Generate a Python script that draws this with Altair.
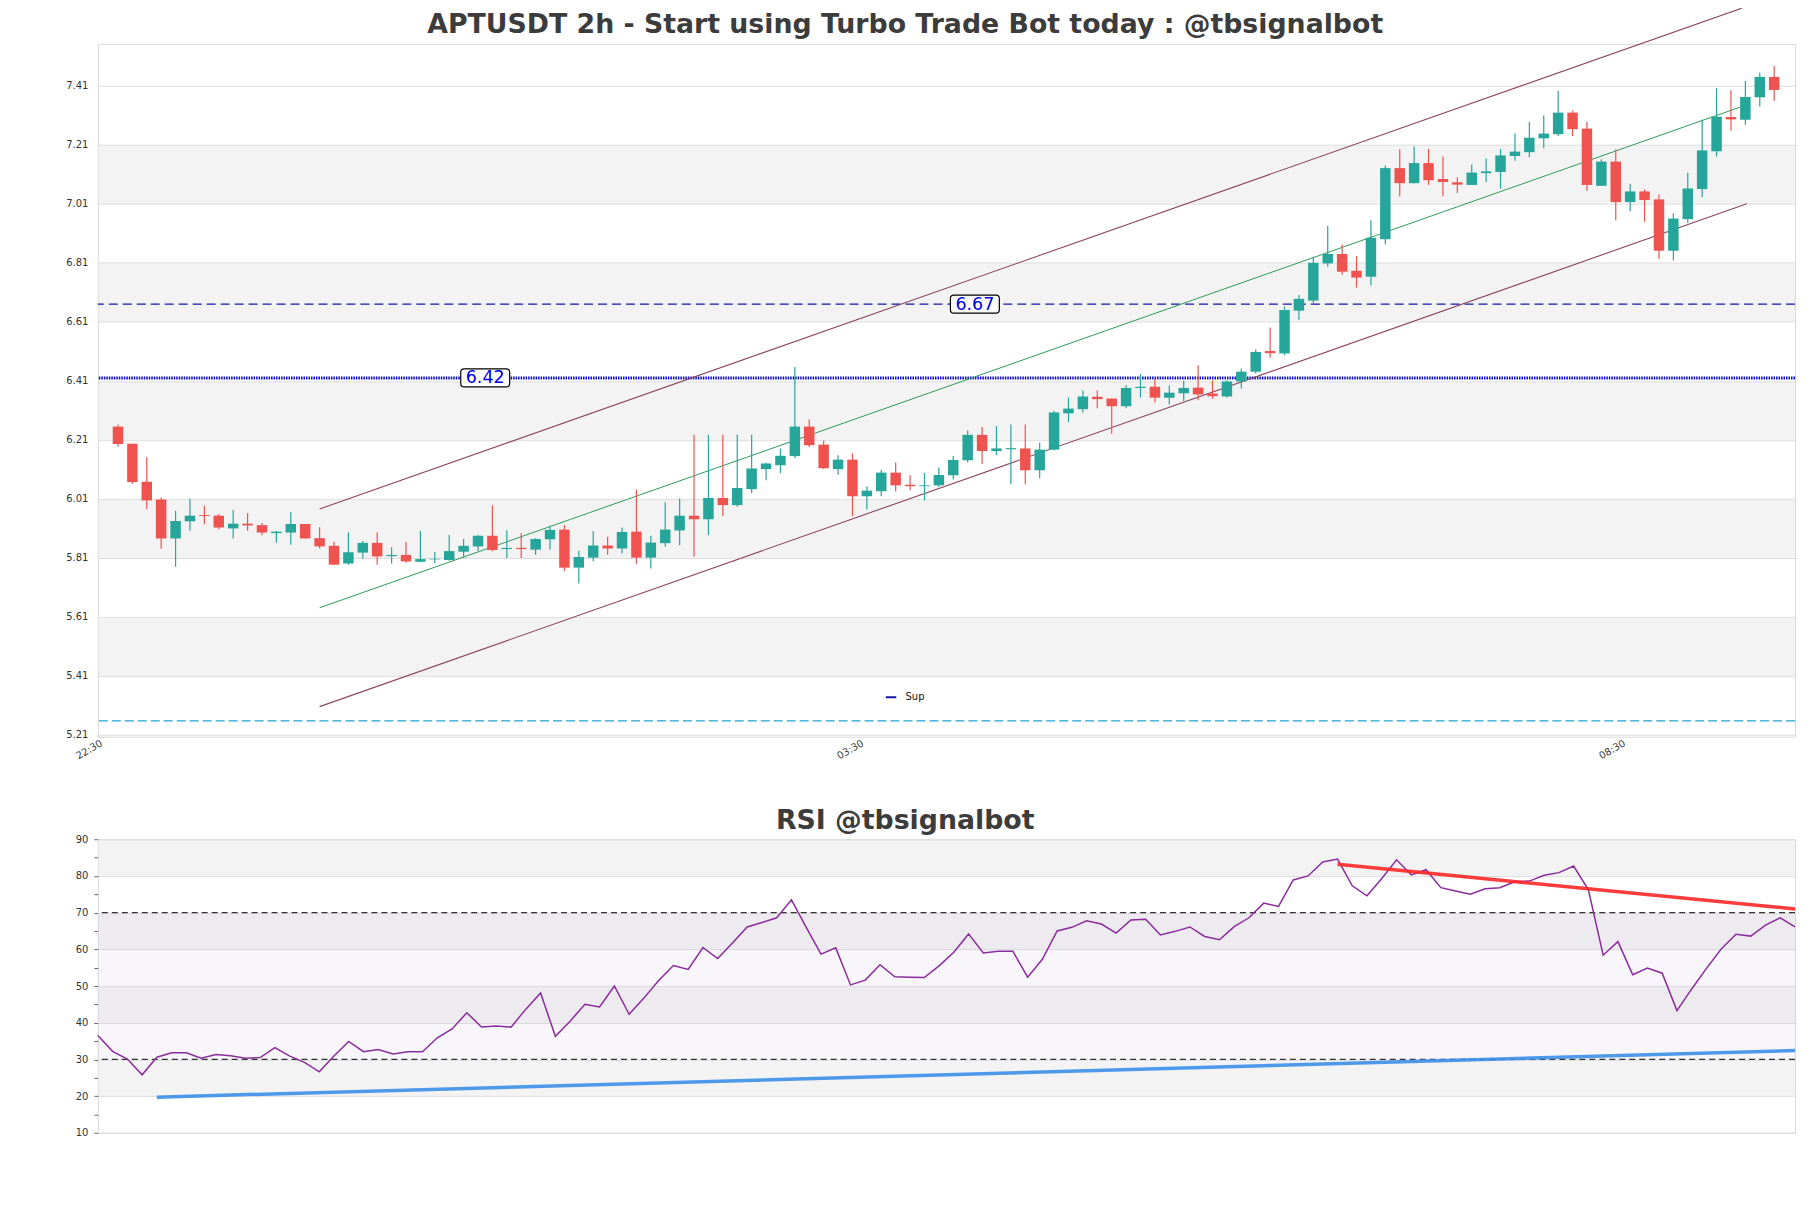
import altair as alt
import pandas as pd

# ---------------- price candles (index 0..115) ----------------
opens = [6.255, 6.197, 6.068, 6.008, 5.876, 5.934, 5.955, 5.953, 5.910, 5.926,
         5.921, 5.894, 5.896, 5.925, 5.877, 5.851, 5.791, 5.828, 5.861, 5.816,
         5.820, 5.797, 5.805, 5.803, 5.831, 5.849, 5.885, 5.840, 5.844, 5.838,
         5.873, 5.906, 5.777, 5.811, 5.852, 5.842, 5.899, 5.811, 5.860, 5.903,
         5.953, 5.941, 6.013, 5.989, 6.043, 6.111, 6.124, 6.155, 6.255, 6.194,
         6.111, 6.143, 6.019, 6.036, 6.099, 6.058, 6.053, 6.056, 6.090, 6.141,
         6.227, 6.172, 6.178, 6.181, 6.107, 6.177, 6.300, 6.314, 6.356, 6.350,
         6.324, 6.386, 6.390, 6.353, 6.368, 6.387, 6.367, 6.357, 6.408, 6.441,
         6.511, 6.503, 6.648, 6.682, 6.808, 6.840, 6.783, 6.763, 6.890, 7.131,
         7.080, 7.148, 7.094, 7.083, 7.074, 7.114, 7.118, 7.172, 7.185, 7.232,
         7.246, 7.319, 7.265, 7.071, 7.153, 7.016, 7.052, 7.025, 6.851, 6.958,
         7.060, 7.188, 7.304, 7.295, 7.371, 7.440]
highs = [6.262, 6.197, 6.151, 6.015, 5.970, 6.011, 5.987, 5.959, 5.972, 5.962,
         5.928, 5.902, 5.966, 5.925, 5.914, 5.865, 5.897, 5.867, 5.897, 5.846,
         5.865, 5.901, 5.830, 5.888, 5.874, 5.888, 5.988, 5.904, 5.894, 5.877,
         5.920, 5.921, 5.834, 5.900, 5.882, 5.913, 6.042, 5.885, 5.999, 6.011,
         6.227, 6.227, 6.227, 6.227, 6.227, 6.133, 6.181, 6.457, 6.279, 6.208,
         6.158, 6.164, 6.052, 6.109, 6.133, 6.090, 6.098, 6.116, 6.155, 6.242,
         6.254, 6.257, 6.262, 6.262, 6.200, 6.309, 6.353, 6.377, 6.377, 6.350,
         6.395, 6.433, 6.416, 6.394, 6.411, 6.463, 6.412, 6.412, 6.452, 6.516,
         6.591, 6.662, 6.701, 6.831, 6.935, 6.872, 6.833, 6.954, 7.140, 7.195,
         7.204, 7.196, 7.170, 7.100, 7.143, 7.164, 7.196, 7.248, 7.288, 7.309,
         7.393, 7.326, 7.288, 7.161, 7.195, 7.078, 7.059, 7.042, 6.978, 7.115,
         7.295, 7.402, 7.395, 7.426, 7.454, 7.477]
lows = [6.187, 6.061, 5.975, 5.841, 5.780, 5.902, 5.924, 5.907, 5.876, 5.902,
        5.887, 5.861, 5.855, 5.876, 5.842, 5.787, 5.787, 5.808, 5.787, 5.791,
        5.794, 5.795, 5.792, 5.800, 5.810, 5.833, 5.833, 5.810, 5.810, 5.821,
        5.838, 5.766, 5.723, 5.799, 5.821, 5.825, 5.789, 5.774, 5.848, 5.853,
        5.815, 5.887, 5.952, 5.983, 6.030, 6.073, 6.097, 6.149, 6.186, 6.111,
        6.092, 5.951, 5.974, 6.019, 6.035, 6.039, 6.005, 6.050, 6.077, 6.133,
        6.128, 6.158, 6.060, 6.060, 6.080, 6.174, 6.270, 6.303, 6.317, 6.231,
        6.317, 6.353, 6.337, 6.331, 6.342, 6.344, 6.349, 6.354, 6.384, 6.435,
        6.488, 6.497, 6.617, 6.671, 6.797, 6.770, 6.726, 6.733, 6.872, 7.036,
        7.080, 7.074, 7.036, 7.047, 7.074, 7.084, 7.061, 7.156, 7.168, 7.198,
        7.240, 7.240, 7.054, 7.071, 6.954, 6.985, 6.949, 6.823, 6.818, 6.945,
        7.032, 7.170, 7.258, 7.278, 7.340, 7.359]
closes = [6.196, 6.067, 6.005, 5.876, 5.935, 5.953, 5.952, 5.913, 5.926, 5.920,
          5.896, 5.899, 5.925, 5.876, 5.849, 5.787, 5.829, 5.861, 5.815, 5.820,
          5.798, 5.806, 5.807, 5.833, 5.851, 5.885, 5.837, 5.844, 5.840, 5.874,
          5.905, 5.777, 5.813, 5.852, 5.842, 5.898, 5.811, 5.862, 5.906, 5.953,
          5.941, 6.013, 5.989, 6.047, 6.113, 6.130, 6.156, 6.255, 6.192, 6.114,
          6.143, 6.019, 6.038, 6.099, 6.056, 6.053, 6.056, 6.091, 6.142, 6.227,
          6.172, 6.181, 6.182, 6.107, 6.177, 6.303, 6.316, 6.357, 6.348, 6.324,
          6.386, 6.390, 6.353, 6.370, 6.386, 6.364, 6.358, 6.408, 6.441, 6.508,
          6.504, 6.650, 6.688, 6.810, 6.840, 6.780, 6.760, 6.895, 7.131, 7.080,
          7.148, 7.090, 7.084, 7.075, 7.116, 7.120, 7.174, 7.187, 7.234, 7.248,
          7.319, 7.263, 7.074, 7.153, 7.016, 7.052, 7.023, 6.851, 6.960, 7.062,
          7.191, 7.305, 7.296, 7.372, 7.440, 7.396]

# titles
main_title = ["APTUSDT 2h - Start using Turbo Trade Bot today : @tbsignalbot"]
rsi_title = ["RSI @tbsignalbot"]

# axis ticks / labels
y_ticks = [5.21, 5.41, 5.61, 5.81, 6.01, 6.21, 6.41, 6.61, 6.81, 7.01, 7.21, 7.41]
x_tick_pos = [-1.05, 51.8, 104.7]
x_tick_lab = ["22:30", "03:30", "08:30"]

# alternating grey bands (price panel)
band_lo = [5.41, 5.81, 6.21, 6.61, 7.01]
band_hi = [5.61, 6.01, 6.41, 6.81, 7.21]

# regression channel
chan_names = ["upper", "upper", "lower", "lower"]
chan_idx = [14.0, 112.75, 14.0, 113.1]
chan_val = [5.976, 7.673, 5.306, 7.010]
mid_idx = [14.0, 112.6]
mid_val = [5.641, 7.337]

# horizontal levels
sup_level = [6.67]
sup_name = ["Sup"]
dotted_level = [6.42]
low_level = [5.258]
label_idx = [25.5, 59.5]
label_val = [6.42, 6.67]
label_txt = ["6.42", "6.67"]

# ---------------- RSI ----------------
rsi = [36.5, 32.2, 30.1, 25.8, 30.6, 31.8, 31.8, 30.3, 31.3, 31.0,
       30.3, 30.5, 33.2, 30.9, 29.2, 26.6, 30.9, 34.9, 32.1, 32.7,
       31.5, 32.1, 32.1, 35.9, 38.3, 42.7, 38.8, 39.1, 38.8, 43.7,
       48.1, 36.3, 40.4, 45.0, 44.3, 50.0, 42.3, 46.7, 51.5, 55.6,
       54.5, 60.5, 57.5, 61.7, 66.1, 67.3, 68.6, 73.5, 66.0, 58.7,
       60.4, 50.3, 51.6, 55.8, 52.5, 52.4, 52.3, 55.5, 59.2, 64.2,
       59.0, 59.5, 59.5, 52.4, 57.3, 65.0, 66.0, 67.8, 66.9, 64.4,
       68.0, 68.2, 63.9, 64.9, 66.1, 63.5, 62.6, 66.2, 68.6, 72.6,
       71.7, 78.9, 80.0, 83.8, 84.6, 77.3, 74.6, 79.3, 84.4, 80.3,
       81.7, 76.8, 75.9, 75.0, 76.5, 76.8, 78.4, 78.6, 80.2, 80.9,
       82.7, 76.2, 58.4, 62.1, 53.1, 54.9, 53.5, 43.3, 49.2, 54.8,
       60.1, 64.1, 63.6, 66.6, 68.6, 66.1]
rsi_band_lo = [20, 40, 60, 80]
rsi_band_hi = [30, 50, 70, 90]
rsi_hatch_lo = [30]
rsi_hatch_hi = [70]
rsi_levels = [70, 30]
red_idx = [84, 115]
red_val = [83.2, 71.0]
blue_idx = [4, 115]
blue_val = [19.7, 32.4]
rsi_ticks = list(range(10, 95, 5))

# ---------------- frames ----------------
n = len(opens)
candles = pd.DataFrame({"idx": list(range(n)), "open": opens, "high": highs,
                        "low": lows, "close": closes})
candles["dir"] = ["up" if c >= o else "down" for o, c in zip(opens, closes)]
candles["body_lo"] = candles[["open", "close"]].min(axis=1)
candles["body_hi"] = candles[["open", "close"]].max(axis=1)

bands = pd.DataFrame({"lo": band_lo, "hi": band_hi})
chan = pd.DataFrame({"grp": chan_names, "idx": chan_idx, "val": chan_val})
mid = pd.DataFrame({"idx": mid_idx, "val": mid_val})
sup = pd.DataFrame({"y": sup_level, "name": sup_name})
dotted = pd.DataFrame({"y": dotted_level})
lowl = pd.DataFrame({"y": low_level})
labels = pd.DataFrame({"idx": label_idx, "y": label_val, "txt": label_txt})

rsi_df = pd.DataFrame({"idx": list(range(len(rsi))), "rsi": rsi})
rbands = pd.DataFrame({"lo": rsi_band_lo, "hi": rsi_band_hi})
rhatch = pd.DataFrame({"lo": rsi_hatch_lo, "hi": rsi_hatch_hi})
rlev = pd.DataFrame({"y": rsi_levels})
red = pd.DataFrame({"idx": red_idx, "val": red_val})
blue = pd.DataFrame({"idx": blue_idx, "val": blue_val})

FONT = "DejaVu Sans"
PLOT_W = 1700
TITLE_CX = 808.7  # title centred on the figure, not on the plot

# ---------------- price panel ----------------
xs = alt.Scale(domain=[-1.05, 116.1], nice=False, zero=False)
ys = alt.Scale(domain=[5.204, 7.552], nice=False, zero=False)

x_expr = " : ".join(
    [f"abs(datum.value - ({p})) < 0.01 ? '{l}'" for p, l in zip(x_tick_pos, x_tick_lab)]
) + " : ''"
x_axis = alt.Axis(values=x_tick_pos, labelExpr=x_expr, labelAngle=330,
                  labelAlign="right", labelBaseline="alphabetic", labelFlush=False,
                  labelOverlap=False, ticks=False, domain=False, grid=False,
                  labelPadding=8, labelFontSize=10, labelColor="#444444")
y_axis = alt.Axis(values=y_ticks, format=".2f", ticks=False, domain=False,
                  labelPadding=10, grid=True, gridColor="#dcdcdc", gridWidth=1,
                  labelFlush=False, labelOverlap=False, labelFontSize=10,
                  labelColor="#333333")


def X(field="idx"):
    return alt.X(f"{field}:Q", scale=xs, axis=x_axis, title=None)


def Y(field):
    return alt.Y(f"{field}:Q", scale=ys, axis=y_axis, title=None)


cscale = alt.Scale(domain=["up", "down"], range=["#26a69a", "#ef5350"])

p_bands = alt.Chart(bands).mark_rect(color="#e4e4e4", opacity=0.45).encode(
    y=Y("lo"), y2="hi")

p_sup = alt.Chart(sup).mark_rule(strokeDash=[9, 5], strokeWidth=1.3).encode(
    y=Y("y"),
    stroke=alt.Stroke("name:N", scale=alt.Scale(domain=sup_name, range=["#1616a8"]),
                      legend=alt.Legend(orient="none", legendX=788, legendY=648,
                                        title=None, symbolType="stroke",
                                        symbolSize=110, symbolStrokeWidth=2,
                                        symbolDash=[10, 0], labelFontSize=10,
                                        labelFont=FONT, labelColor="#111111",
                                        padding=0, labelOffset=8)))
p_dot = alt.Chart(dotted).mark_rule(color="#0a0ac4", strokeWidth=3,
                                    strokeDash=[1.5, 1]).encode(y=Y("y"))
p_low = alt.Chart(lowl).mark_rule(color="#22a3d4", strokeWidth=1.3,
                                  strokeDash=[9, 4]).encode(y=Y("y"))

p_chan = alt.Chart(chan).mark_line(color="#8b4560", strokeWidth=1.1).encode(
    x=X(), y=Y("val"), detail="grp:N")
p_mid = alt.Chart(mid).mark_line(color="#2e9b5b", strokeWidth=1.0).encode(
    x=X(), y=Y("val"))

p_wick = alt.Chart(candles).mark_rule(strokeWidth=1.2).encode(
    x=X(), y=Y("low"), y2="high",
    color=alt.Color("dir:N", scale=cscale, legend=None))
p_body = alt.Chart(candles).mark_bar(width=10.5).encode(
    x=X(), y=Y("body_lo"), y2="body_hi",
    color=alt.Color("dir:N", scale=cscale, legend=None))

box_path = ("M-0.86,-0.367 L0.86,-0.367 Q1,-0.367 1,-0.227 L1,0.227 "
            "Q1,0.367 0.86,0.367 L-0.86,0.367 Q-1,0.367 -1,0.227 "
            "L-1,-0.227 Q-1,-0.367 -0.86,-0.367 Z")
p_box = alt.Chart(labels).mark_point(shape=box_path, size=49 * 49, filled=True,
                                     fill="white", stroke="black", strokeWidth=1.2,
                                     opacity=1, fillOpacity=1).encode(
    x=X(), y=Y("y"))
p_txt = alt.Chart(labels).mark_text(color="#0000ee", fontSize=17.5, font=FONT,
                                    align="center", baseline="middle", dy=0.5).encode(
    x=X(), y=Y("y"), text="txt:N")

p_title = alt.Chart(pd.DataFrame({"t": main_title})).mark_text(
    font=FONT, fontSize=26.8, fontWeight="bold", color="#3c3c3c",
    align="center", baseline="alphabetic").encode(
    text="t:N", x=alt.value(TITLE_CX), y=alt.value(-10.6))

top = alt.layer(p_bands, p_sup, p_dot, p_low, p_chan, p_mid, p_wick, p_body,
                p_box, p_txt, p_title).properties(width=PLOT_W, height=694)

# ---------------- RSI panel ----------------
xr = alt.Scale(domain=[0, 115], nice=False, zero=False)
yr = alt.Scale(domain=[10, 90], nice=False, zero=False)
r_axis = alt.Axis(values=rsi_ticks,
                  labelExpr="datum.value % 10 === 0 ? datum.label : ''",
                  tickSize=4, tickColor="#666666", domain=False, labelPadding=6,
                  grid=True, gridColor="#dcdcdc",
                  gridOpacity={"condition": {"test": "datum.value % 10 === 0", "value": 1},
                               "value": 0},
                  labelFlush=False, labelOverlap=False, labelFontSize=10,
                  labelColor="#333333")


def XR():
    return alt.X("idx:Q", scale=xr, axis=None, title=None)


def YR(field):
    return alt.Y(f"{field}:Q", scale=yr, axis=r_axis, title=None)


r_bands = alt.Chart(rbands).mark_rect(color="#e4e4e4", opacity=0.45).encode(
    y=YR("lo"), y2="hi")
r_hatch = alt.Chart(rhatch).mark_rect(color="#cdbbe0", opacity=0.13).encode(
    y=YR("lo"), y2="hi")
r_lev = alt.Chart(rlev).mark_rule(color="#333333", strokeWidth=1.1,
                                  strokeDash=[6, 4]).encode(y=YR("y"))
r_line = alt.Chart(rsi_df).mark_line(color="#8a2c9c", strokeWidth=1.5).encode(
    x=XR(), y=YR("rsi"))
r_red = alt.Chart(red).mark_line(color="#ff2626", strokeWidth=3.5, opacity=0.9).encode(
    x=XR(), y=YR("val"))
r_blue = alt.Chart(blue).mark_line(color="#3b8fe8", strokeWidth=3.5, opacity=0.9).encode(
    x=XR(), y=YR("val"))
r_title = alt.Chart(pd.DataFrame({"t": rsi_title})).mark_text(
    font=FONT, fontSize=26.8, fontWeight="bold", color="#3c3c3c",
    align="center", baseline="alphabetic").encode(
    text="t:N", x=alt.value(TITLE_CX), y=alt.value(-10))

bottom = alt.layer(r_bands, r_hatch, r_lev, r_line, r_red, r_blue,
                   r_title).properties(width=PLOT_W, height=294)

chart = alt.vconcat(top, bottom, spacing=102.7, bounds="flush").properties(
    padding={"left": 57, "top": -4, "right": 0, "bottom": 0}
).configure_view(stroke="#d9d9d9", strokeWidth=1).configure_axis(
    labelFont=FONT)

chart.save("out.html", embed_options={"renderer": "svg", "actions": False})
